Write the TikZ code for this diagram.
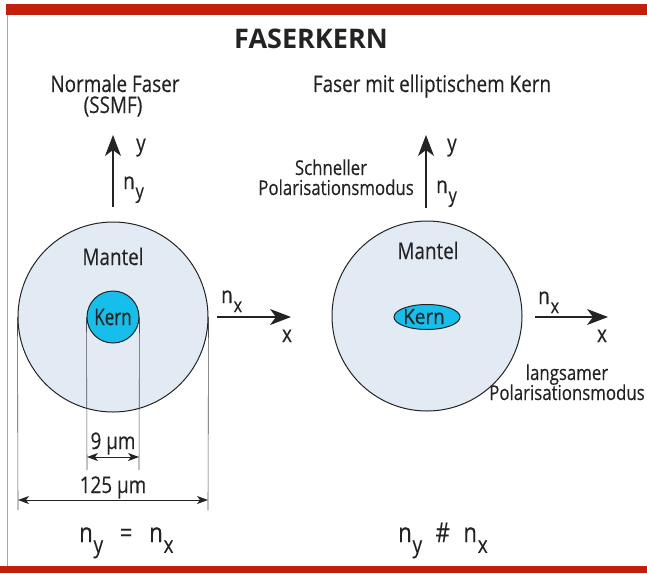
\documentclass[tikz,border=0pt]{standalone}
\usepackage{fontspec}
\setmainfont[FakeStretch=0.82,FakeBold=0.3]{Open Sans}
\newfontfamily\titlefont{Open Sans}
\usetikzlibrary{arrows.meta,shapes.geometric}
\definecolor{barred}{RGB}{193,32,12}
\definecolor{mantelfill}{RGB}{226,234,243}
\definecolor{kernfill}{RGB}{22,190,236}
\definecolor{ink}{RGB}{35,35,35}
\definecolor{frame}{RGB}{170,165,160}
\newcommand\nsub[2]{#1\kern0.8pt\raisebox{-0.4em}{\fontsize{20}{20}\selectfont #2}}
\newcommand\nsubB[2]{#1\kern0.8pt\raisebox{-0.4em}{\fontsize{23}{23}\selectfont #2}}
\tikzset{
  txt/.style={text=ink, inner sep=0pt, font=\fontsize{23}{26}\selectfont},
  smalltxt/.style={text=ink, inner sep=0pt, font=\fontsize{20.5}{23}\selectfont},
  eqtxt/.style={text=ink, inner sep=0pt, font=\fontsize{27}{29}\selectfont},
  titletxt/.style={text=ink, inner sep=0pt, font=\titlefont\bfseries\fontsize{27}{29}\selectfont},
  mantel/.style={circle, draw=ink, line width=1pt, fill=mantelfill, minimum size=190pt, inner sep=0pt},
  kerncirc/.style={circle, draw=ink, line width=1pt, fill=kernfill, minimum size=52pt, inner sep=0pt, text=ink, font=\fontsize{23}{25}\selectfont},
  kernell/.style={ellipse, draw=ink, line width=1pt, fill=kernfill, minimum width=66pt, minimum height=25pt, inner sep=0pt},
  axis/.style={draw=ink, line width=1.3pt, -{Stealth[length=21pt,width=16pt,inset=6pt]}},
  dimline/.style={draw=ink!80, line width=0.6pt},
  dimarrow/.style={draw=ink, line width=0.9pt, {Stealth[length=11pt,width=8pt,inset=3pt]}-{Stealth[length=11pt,width=8pt,inset=3pt]}},
}
\begin{document}
\begin{tikzpicture}[x=1pt,y=-1pt]
\useasboundingbox (0,0) rectangle (647,573);
% frame
\fill[barred] (6,4) rectangle (647,15);
\fill[barred] (0,566) rectangle (647,573);
\draw[frame, line width=0.9pt] (7,15) -- (7,566);
% title
\node[titletxt] (title) at (311,39) {FASERKERN};
% headings
\node[txt, anchor=base] (h1) at (115,92) {Normale Faser};
\node[txt, anchor=base] (h1b) at (113,113) {(SSMF)};
\node[txt, anchor=base] (h2) at (432,92) {Faser mit elliptischem Kern};
% left fiber
\node[mantel] (m1) at (113,317) {};
\node[txt, anchor=base] (ml1) at (113,265) {Mantel};
\node[kerncirc] (k1) at (113,317) {\scalebox{0.9}[1]{Kern}};
% right fiber
\node[mantel] (m2) at (427,316) {};
\node[txt, anchor=base] (ml2) at (428,259) {Mantel};
\node[kernell] (k2) at (427,317) {};
\node[text=ink, inner sep=0pt, font=\fontsize{21}{23}\selectfont, anchor=base] (k2t) at (424,324) {\scalebox{1.1}[1]{Kern}};
% left axes
\coordinate (ly0) at (113,207);
\coordinate (ly1) at (113,135);
\draw[axis] (ly0) -- (ly1);
\node[txt, anchor=base west] (ly) at (136,151) {y};
\node[txt, anchor=base west] (lny) at (123,189) {\nsub{n}{y}};
\coordinate (lx0) at (217,317);
\coordinate (lx1) at (291,317);
\draw[axis] (lx0) -- (lx1);
\node[txt, anchor=base west] (lnx) at (221,303) {\nsub{n}{x}};
\node[txt, anchor=base] (lx) at (287,342) {x};
% right axes
\coordinate (ry0) at (426,208);
\coordinate (ry1) at (426,135);
\draw[axis] (ry0) -- (ry1);
\node[txt, anchor=base west] (ry) at (447,151) {y};
\node[txt, anchor=base west] (rny) at (436,193) {\nsub{n}{y}};
\node[smalltxt, anchor=base] (schnell1) at (331,175) {Schneller};
\node[smalltxt, anchor=base east] (schnell2) at (414,195) {Polarisationsmodus};
\coordinate (rx0) at (535,317);
\coordinate (rx1) at (608,317);
\draw[axis] (rx0) -- (rx1);
\node[txt, anchor=base west] (rnx) at (538,304) {\nsub{n}{x}};
\node[txt, anchor=base] (rx) at (602,342) {x};
\node[smalltxt, anchor=base] (lang1) at (567,380) {langsamer};
\node[smalltxt, anchor=base] (lang2) at (567,400) {Polarisationsmodus};
% dimensions
\coordinate (d1) at (87,470);
\coordinate (d2) at (139,470);
\coordinate (d3) at (18,510);
\coordinate (d4) at (208,510);
\draw[dimline] (k1.west) -- (d1);
\draw[dimline] (k1.east) -- (d2);
\draw[dimline] (m1.west) -- (d3);
\draw[dimline] (m1.east) -- (d4);
\coordinate (a1) at (87,457);
\coordinate (a2) at (139,457);
\coordinate (a3) at (18,500);
\coordinate (a4) at (208,500);
\draw[dimarrow] (a1) -- (a2);
\draw[dimarrow] (a3) -- (a4);
\node[txt, anchor=base] (dim9) at (113,449) {9 µm};
\node[txt, anchor=base] (dim125) at (113,493) {125 µm};
% equations
\node[eqtxt, anchor=base west] (eq1) at (79,542) {\nsubB{n}{y}\hspace{0.62em}=\hspace{0.62em}\nsubB{n}{x}};
\node[eqtxt, anchor=base west] (eq2) at (398,542) {\nsubB{n}{y}\hspace{0.5em}\#\hspace{0.5em}\nsubB{n}{x}};
\end{tikzpicture}
\end{document}
